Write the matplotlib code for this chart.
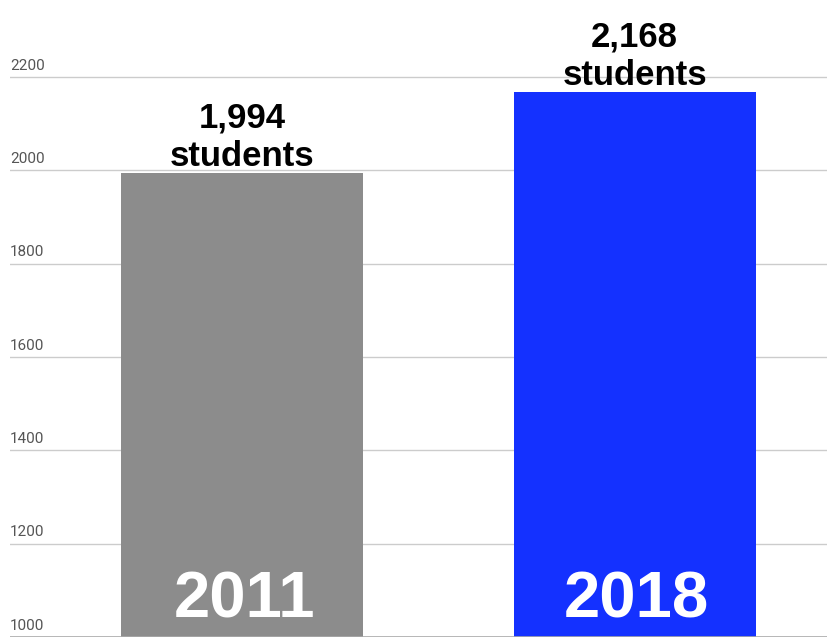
import matplotlib.pyplot as plt

years = ['2011', '2018']
students = [1994, 2168]
bar_colors = ['#8c8c8c', '#1431ff']
y_ticks = [1000, 1200, 1400, 1600, 1800, 2000, 2200]

plt.rcParams['font.family'] = ['Liberation Sans', 'DejaVu Sans']

fig = plt.figure(figsize=(8.27, 6.39), dpi=100)
ax = fig.add_axes([10 / 827, 2 / 639, 817 / 827, 637 / 639])

x = range(len(years))
ax.bar(x, [s - 1000 for s in students], bottom=1000, width=0.617,
       color=bar_colors, zorder=2)

ax.set_xlim(-0.591, 1.49)
ax.set_ylim(1000, 2365)

# gridlines with labels sitting on top of them
for t in y_ticks:
    if t == 1000:
        ax.axhline(t, color='#aaaaaa', lw=1.2, zorder=3)
    else:
        ax.axhline(t, color='#cccccc', lw=1, zorder=1)
    ax.annotate(str(t), (0, t), xycoords=('axes fraction', 'data'),
                xytext=(0, 3), textcoords='offset points',
                fontsize=11, color='#555555', family=['Roboto', 'DejaVu Sans'],
                ha='left', va='bottom')

for i, (yr, s) in enumerate(zip(years, students)):
    ax.annotate(f'{s:,}\nstudents', (i, s), xytext=(0, 0),
                textcoords='offset points', ha='center', va='bottom',
                fontsize=25, fontweight='bold', color='black',
                linespacing=1.2, zorder=4)
    ax.annotate(yr, (i, 1000), xytext=(1.5, 5), textcoords='offset points',
                ha='center', va='bottom', fontsize=47,
                fontweight='bold', color='white', zorder=4)

ax.axis('off')
fig.savefig('out.png', dpi=100)
